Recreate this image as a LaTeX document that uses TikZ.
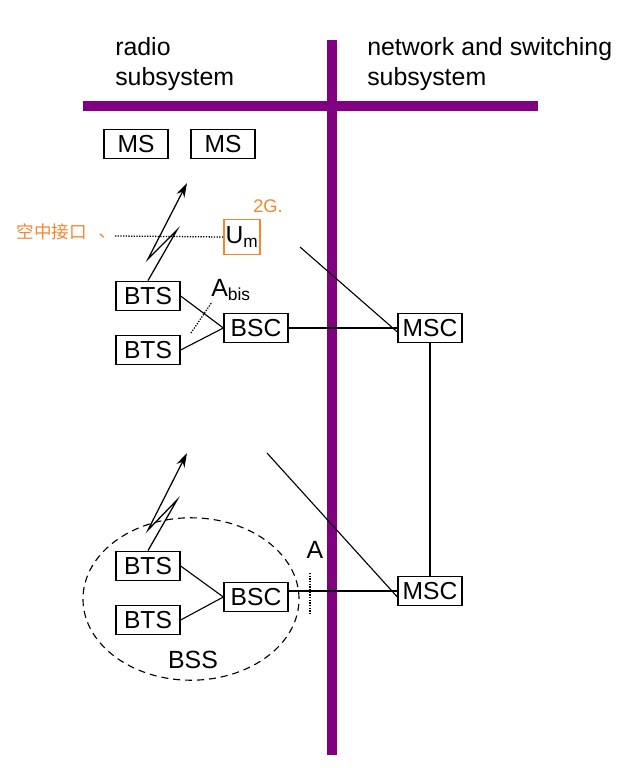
\documentclass[tikz,border=0pt]{standalone}
\usepackage{fontspec}
\setmainfont{Liberation Sans}
\newfontfamily\cjk{Noto Sans CJK SC}
\usetikzlibrary{arrows.meta}
\definecolor{gsmpurple}{HTML}{800080}
\definecolor{pen}{HTML}{F5862E}

\begin{document}
\begin{tikzpicture}[x=0.025cm,y=-0.025cm,
  unit/.style={draw,line width=0.9pt,minimum width=1.6cm,minimum height=0.74cm,inner sep=0pt,font=\fontsize{17.5}{20}\selectfont},
  wall/.style={gsmpurple,line width=7.1pt},
  lbl/.style={font=\fontsize{17.7}{21.3}\selectfont,align=left,anchor=west,inner sep=0pt},
  link/.style={line width=0.8pt},
  radio/.style={line width=0.9pt,-{Stealth[length=3.6mm,width=2.2mm]}},
  iface/.style={line width=0.9pt,densely dotted}]
  \useasboundingbox (0,0) rectangle (627,768);

  \draw[wall] (83,106) -- (538,106);
  \draw[wall] (332,40) -- (332,755);
  \node[lbl] (radiosub) at (115,64) {radio\\subsystem};
  \node[lbl] (nsssub) at (367,64) {network and switching\\subsystem};

  \node[unit] (ms1) at (136,144) {MS};
  \node[unit] (ms2) at (223,144) {MS};

  \node[unit] (bts1) at (148,296) {BTS};
  \node[unit] (bts2) at (148,350) {BTS};
  \node[unit] (bsc1) at (256,328) {BSC};
  \node[unit] (msc1) at (430,328) {MSC};

  \node[unit] (bts3) at (148,566) {BTS};
  \node[unit] (bts4) at (148,620) {BTS};
  \node[unit] (bsc2) at (256,597) {BSC};
  \node[unit] (msc2) at (430,591) {MSC};

  \draw[dashed,line width=0.8pt,dash pattern=on 5pt off 3.5pt] (191,599) ellipse [x radius=2.7cm, y radius=2.03cm];
  \node[lbl,anchor=center] (bss) at (193,660) {BSS};

  \coordinate (air1) at (115,236);
  \node[draw=pen,line width=1pt,minimum width=0.9cm,minimum height=0.87cm,inner sep=0pt,font=\fontsize{17.5}{20}\selectfont] (um) at (242,237) {U\textsubscript{m}};
  \draw[iface] (air1) -- (um.west);
  \node[pen,font=\cjk\fontsize{12.5}{14}\selectfont] (kongzhong) at (52,232) {空中接口};
  \node[pen,font=\cjk\fontsize{12}{14}\selectfont] (dun) at (107,236) {、};
  \node[pen,font=\fontsize{13}{15}\selectfont] (twog) at (268,206) {2G.};

  \coordinate (tip1) at (187,183);
  \coordinate (tip2) at (187,453);
  \draw[radio] (bts1.north) -- (177,230) -- (148,259) -- (tip1);
  \draw[radio] (bts3.north) -- (177,500) -- (148,530) -- (tip2);

  \draw[link] (bts1.east) -- (bsc1.west);
  \draw[link] (bts2.east) -- (bsc1.west);
  \draw[link] (bts3.east) -- (bsc2.west);
  \draw[link] (bts4.east) -- (bsc2.west);
  \draw[link] (bsc1.east) -- (msc1.west);
  \draw[link] (bsc2.east |- msc2.west) -- (msc2.west);
  \draw[link] (msc1.south) -- (msc2.north);

  \coordinate (air2) at (300,247);
  \coordinate (air3) at (267,453);
  \draw[link] (air2) -- ([yshift=-0.1cm]msc1.west);
  \draw[link] (air3) -- ([yshift=-0.15cm]msc2.west);

  \coordinate (abis1) at (191,333);
  \coordinate (abis2) at (212,302);
  \draw[iface] (abis1) -- (abis2);
  \node[lbl] (abis) at (211,290) {A\textsubscript{bis}};

  \coordinate (aif1) at (310,573);
  \coordinate (aif2) at (310,614);
  \draw[iface] (aif1) -- (aif2);
  \node[lbl,anchor=center] (aif) at (315,550) {A};
\end{tikzpicture}
\end{document}
